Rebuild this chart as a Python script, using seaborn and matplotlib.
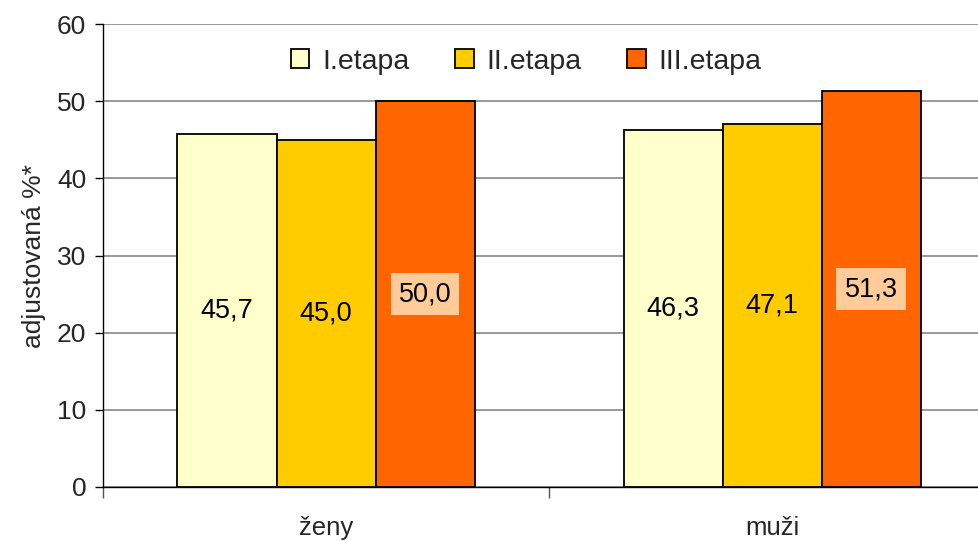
import matplotlib
matplotlib.use("Agg")
import matplotlib.pyplot as plt
from matplotlib.ticker import FixedLocator
import seaborn as sns
import pandas as pd

# data
groups = ["ženy", "muži"]
stages = ["I.etapa", "II.etapa", "III.etapa"]
values_I = [45.7, 46.3]
values_II = [45.0, 47.1]
values_III = [50.0, 51.3]
value_labels = {"I.etapa": ["45,7", "46,3"],
                "II.etapa": ["45,0", "47,1"],
                "III.etapa": ["50,0", "51,3"]}
y_ticks = [0, 10, 20, 30, 40, 50, 60]

colors = ["#FFFFCC", "#FFCC00", "#FF6600"]

df = pd.DataFrame({
    "skupina": groups * 3,
    "etapa": [s for s in stages for _ in groups],
    "hodnota": values_I + values_II + values_III,
})

sns.set_theme(style="white")
plt.rcParams["font.family"] = ["Liberation Sans", "DejaVu Sans"]

fig = plt.figure(figsize=(9.79, 5.41), dpi=100)
ax = fig.add_axes([103 / 979, 1 - 487 / 541, 1 - 103 / 979, (487 - 24) / 541])

sns.barplot(data=df, x="skupina", y="hodnota", hue="etapa",
            order=groups, hue_order=stages, palette=colors,
            width=0.666, gap=0, edgecolor="black", linewidth=1.3,
            saturation=1, errorbar=None, ax=ax, zorder=3)

ax.yaxis.set_major_locator(FixedLocator(y_ticks))
ax.grid(axis="y", color="#888888", linewidth=1.2, zorder=0)
ax.set_axisbelow(True)

for side in ["top", "right"]:
    ax.spines[side].set_visible(False)
for side in ["left", "bottom"]:
    ax.spines[side].set_color("black")
    ax.spines[side].set_linewidth(1.0)

ax.tick_params(axis="y", which="major", length=6, width=1, color="black",
               direction="out", labelsize=19, pad=6, left=True)
ax.set_xticks([0, 1])
ax.set_xticks([-0.5, 0.5, 1.5], minor=True)
ax.tick_params(axis="x", which="major", length=0, labelsize=18.5, pad=21)
ax.tick_params(axis="x", which="minor", length=8, width=1, color="#555555",
               direction="out", bottom=True)
ax.set_xlim(-0.5, 1.464)
ax.set_ylim(0, 60)
ax.set_xlabel("")
ax.set_ylabel("adjustovaná %*", fontsize=19, labelpad=8)

# value labels in the middle of each bar
for stage, cont in zip(stages, ax.containers):
    for bar, txt in zip(cont, value_labels[stage]):
        cx = bar.get_x() + bar.get_width() / 2
        cy = bar.get_height() / 2
        kw = {}
        if stage == "III.etapa":
            kw["bbox"] = dict(facecolor="#FFCC99", edgecolor="none",
                              boxstyle="square,pad=0.3")
        ax.text(cx, cy, txt, ha="center", va="center", fontsize=19.5,
                color="black", zorder=5, **kw)

leg = ax.legend(loc="center", bbox_to_anchor=(0.483, 0.918), ncol=3,
                frameon=False, fontsize=20.5, handlelength=0.65,
                handleheight=0.65, handletextpad=0.45, columnspacing=1.6)
for h in leg.legend_handles:
    h.set_edgecolor("black")
    h.set_linewidth(1.3)

fig.savefig("out.png", dpi=100)
